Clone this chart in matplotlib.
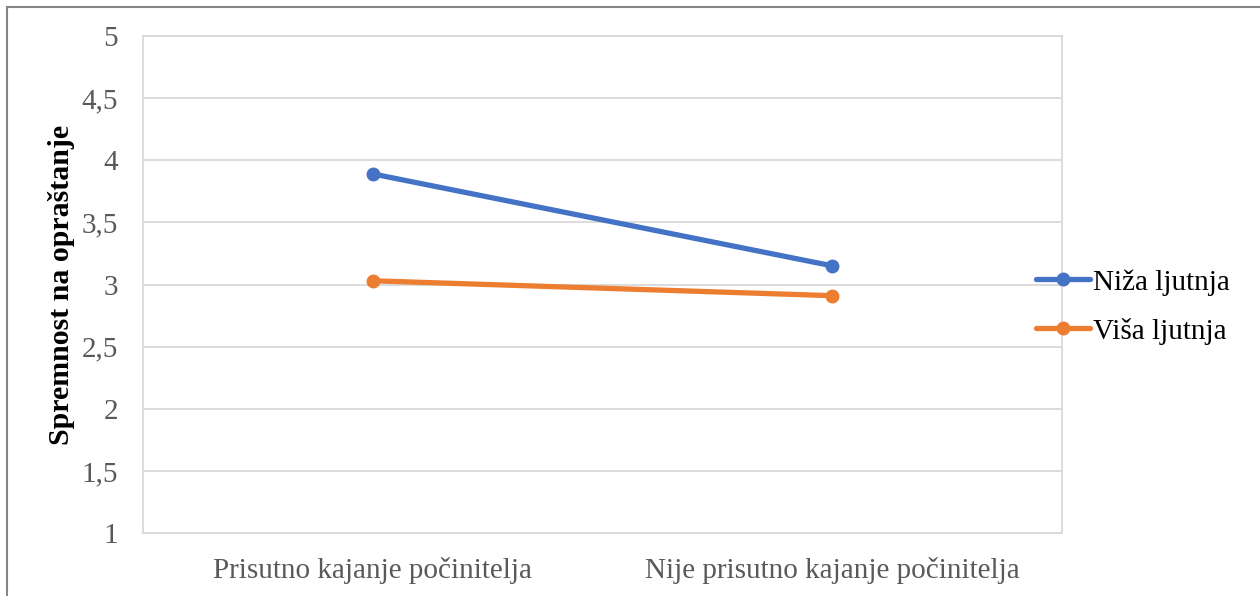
import matplotlib.pyplot as plt
from matplotlib.patches import Rectangle

# Podaci
categories = ['Prisutno kajanje počinitelja', 'Nije prisutno kajanje počinitelja']
niza_ljutnja = [3.89, 3.15]
visa_ljutnja = [3.03, 2.91]
yticks = [1, 1.5, 2, 2.5, 3, 3.5, 4, 4.5, 5]
ytick_labels = ['1', '1,5', '2', '2,5', '3', '3,5', '4', '4,5', '5']

plt.rcParams['font.family'] = ['Liberation Serif', 'DejaVu Serif']

fig = plt.figure(figsize=(12.6, 5.96), dpi=100)
ax = fig.add_axes([0.1135, 0.1057, 0.7294, 0.8339])

x = [0, 1]
ax.plot(x, niza_ljutnja, color='#4472c4', linewidth=3.8, marker='o', markersize=9,
        solid_capstyle='round', label='Niža ljutnja', zorder=3)
ax.plot(x, visa_ljutnja, color='#ed7d31', linewidth=3.8, marker='o', markersize=9,
        solid_capstyle='round', label='Viša ljutnja', zorder=3)

ax.set_xlim(-0.5, 1.5)
ax.set_ylim(1, 5)
ax.set_xticks(x)
ax.set_xticklabels(categories)
ax.set_yticks(yticks)
ax.set_yticklabels(ytick_labels)
ax.tick_params(axis='both', length=0, labelsize=21, labelcolor='#595959')
ax.tick_params(axis='x', pad=17)
ax.tick_params(axis='y', pad=18)
ax.yaxis.grid(True, color='#d9d9d9', linewidth=1.3)
for s in ax.spines.values():
    s.set_color('#d9d9d9')
    s.set_linewidth(1.3)

ax.set_ylabel('Spremnost na opraštanje', fontsize=21.5, fontweight='bold', labelpad=5)

ax.legend(loc='center left', bbox_to_anchor=(0.972, 0.455), frameon=False, fontsize=21,
          handlelength=1.85, handletextpad=0.1, labelspacing=0.75, borderaxespad=0,
          borderpad=0)

# okvir grafikona
fig.patches.append(Rectangle((7 / 1260, -0.05), 1.0, 1 - 7 / 596 + 0.05, transform=fig.transFigure,
                             fill=False, edgecolor='#868686', linewidth=1.5))

fig.savefig('out.png', dpi=100)
